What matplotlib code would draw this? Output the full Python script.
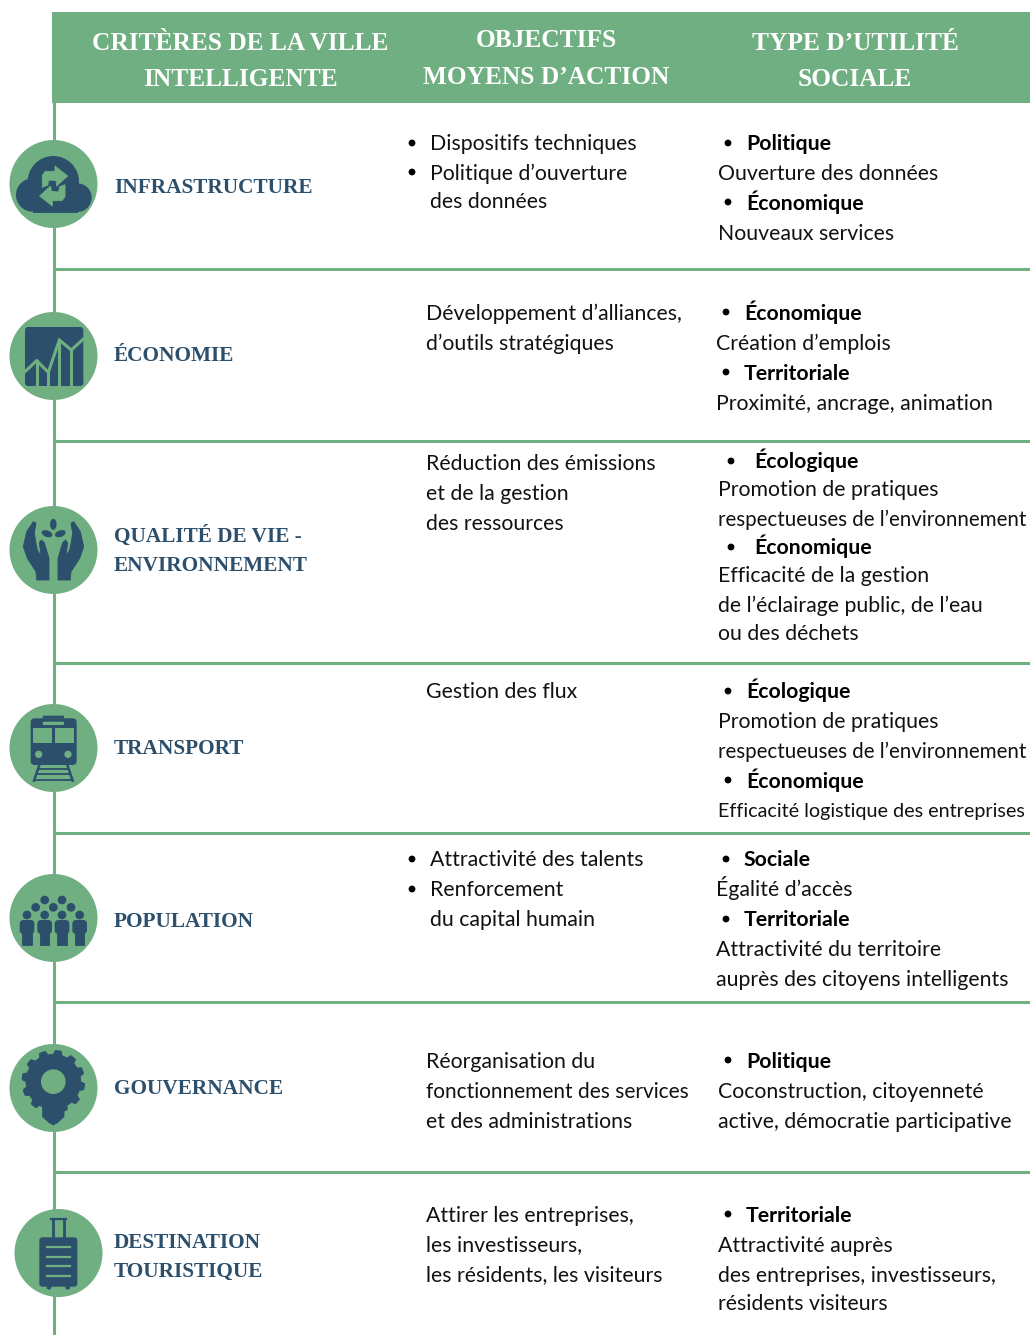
import numpy as np
import matplotlib
matplotlib.use('Agg')
import matplotlib.pyplot as plt
from matplotlib.patches import Circle, Rectangle, Polygon, FancyBboxPatch, Ellipse

GREEN = '#6FAF82'
NAVY = '#2C4F6B'
HEAD_FONT = 'Liberation Serif'
BODY_FONT = 'Lato'

# table content
headers = [['CRITÈRES DE LA VILLE', 'INTELLIGENTE'],
           ['OBJECTIFS', 'MOYENS D’ACTION'],
           ['TYPE D’UTILITÉ', 'SOCIALE']]
criteria = [['INFRASTRUCTURE'], ['ÉCONOMIE'], ['QUALITÉ DE VIE -', 'ENVIRONNEMENT'],
            ['TRANSPORT'], ['POPULATION'], ['GOUVERNANCE'], ['DESTINATION', 'TOURISTIQUE']]
objectives = [['Dispositifs techniques', 'Politique d’ouverture', 'des données'],
              ['Développement d’alliances,', 'd’outils stratégiques'],
              ['Réduction des émissions', 'et de la gestion', 'des ressources'],
              ['Gestion des flux'],
              ['Attractivité des talents', 'Renforcement', 'du capital humain'],
              ['Réorganisation du', 'fonctionnement des services', 'et des administrations'],
              ['Attirer les entreprises,', 'les investisseurs,', 'les résidents, les visiteurs']]
objective_bullets = [[0, 1], [], [], [], [0, 1], [], []]
utility = [['Politique', 'Ouverture des données', 'Économique', 'Nouveaux services'],
           ['Économique', 'Création d’emplois', 'Territoriale', 'Proximité, ancrage, animation'],
           ['Écologique', 'Promotion de pratiques', 'respectueuses de l’environnement', 'Économique',
            'Efficacité de la gestion', 'de l’éclairage public, de l’eau', 'ou des déchets'],
           ['Écologique', 'Promotion de pratiques', 'respectueuses de l’environnement', 'Économique',
            'Efficacité logistique des entreprises'],
           ['Sociale', 'Égalité d’accès', 'Territoriale', 'Attractivité du territoire',
            'auprès des citoyens intelligents'],
           ['Politique', 'Coconstruction, citoyenneté', 'active, démocratie participative'],
           ['Territoriale', 'Attractivité auprès', 'des entreprises, investisseurs,', 'résidents visiteurs']]
utility_types = {'Politique', 'Économique', 'Territoriale', 'Écologique', 'Sociale'}

# layout, in pixels of the 1030x1335 picture
sep_y = [269, 441, 663, 833, 1002, 1172]
circle_xy = [(53, 184), (53, 356), (53, 550), (53, 748), (53, 918), (53, 1088), (58, 1253)]
header_x = [240, 546, 855]
header_base = [[50, 86], [47, 84], [50, 86]]
criteria_base = [[193], [361], [542, 571], [754], [927], [1094], [1248, 1277]]
obj_y = [[143, 172, 201], [312, 342], [463, 492, 522], [691], [859, 889, 919],
         [1060, 1090, 1120], [1214, 1244, 1274]]
util_y = [[143, 172, 202, 232], [312, 342, 372, 402], [461, 489, 518, 547, 575, 604, 632],
          [691, 721, 751, 780, 810], [859, 889, 919, 949, 978], [1060, 1090, 1120],
          [1214, 1244, 1274, 1303]]
util_x = [(728, 746, 718), (726, 744, 716), (731, 754, 718), (728, 746, 718),
          (726, 744, 716), (728, 746, 718), (728, 746, 718)]
BASE_DROP = 7.5
BODY_SIZE = 15.3
# these lines run tighter in the original, Lato sets them too wide otherwise
fitted_size = {'respectueuses de l’environnement': 14.8,
               'Efficacité logistique des entreprises': 14.2,
               'fonctionnement des services': 15.0}

fig = plt.figure(figsize=(10.3, 13.35), dpi=100)
ax = fig.add_axes([0, 0, 1, 1])
ax.set_xlim(0, 1030)
ax.set_ylim(1335, 0)
ax.axis('off')


def add_poly(pts, ox, oy, color=NAVY, z=4):
    pts = [(ox + x / 3, oy + y / 3) for x, y in pts]
    ax.add_patch(Polygon(pts, closed=True, fc=color, ec=color, lw=0.6, joinstyle='round', zorder=z))


def add_round(x0, y0, x1, y1, ox, oy, r=2.0, color=NAVY, z=4):
    ax.add_patch(FancyBboxPatch((ox + x0 / 3 + r, oy + y0 / 3 + r), (x1 - x0) / 3 - 2 * r, (y1 - y0) / 3 - 2 * r,
                                boxstyle='round,pad=%g,rounding_size=%g' % (r, r), fc=color, ec='none', zorder=z))


def add_dot(x, y, r, ox, oy, color=NAVY, z=4):
    ax.add_patch(Circle((ox + x / 3, oy + y / 3), r / 3, fc=color, ec='none', zorder=z))


def cloud_icon():
    for x, y, r in [(160, 545, 77), (98, 585, 50), (232, 593, 43)]:
        add_dot(x, y, r, 0, 0)
    add_poly([(98, 570), (232, 570), (232, 635), (98, 635)], 0, 0)
    up = [(127, 562), (127, 526), (136, 514), (165, 514), (165, 498), (203, 528), (170, 558),
          (168, 542), (148, 540), (144, 548), (144, 555)]
    add_poly(up, 0, 0, GREEN, 5)
    add_poly([(322 - x, 1116 - y) for x, y in up], 0, 0, GREEN, 5)


def chart_icon():
    add_round(75, 981, 250, 1158, 0, 0, r=3)
    line_x = [75, 110, 145, 178, 214, 250]
    line_y = [1115, 1082, 1117, 1020, 1050, 1017]
    ax.plot([x / 3 for x in line_x], [y / 3 for y in line_y], color=GREEN, lw=2.2, zorder=5, solid_joinstyle='miter')
    for x, y in zip(line_x[1:5], line_y[1:5]):
        ax.plot([x / 3, x / 3], [y / 3, 1158 / 3], color=GREEN, lw=2.2, zorder=5)


def hands_icon():
    left = [(100, 95), (108, 100), (103, 130), (108, 160), (112, 180), (123, 198), (118, 158), (124, 150),
            (133, 158), (147, 205), (147, 270), (110, 270), (108, 245), (82, 205), (70, 170), (80, 125)]
    add_poly(left, 0, 490)
    add_poly([(321 - x, y) for x, y in left], 0, 490)
    ax.add_patch(Ellipse((160 / 3, 490 + 103 / 3), 6.5, 11, fc=NAVY, ec='none', zorder=4))
    ax.add_patch(Ellipse((141 / 3, 490 + 131 / 3), 11, 6.5, angle=20, fc=NAVY, ec='none', zorder=4))
    ax.add_patch(Ellipse((181 / 3, 490 + 131 / 3), 11, 6.5, angle=-20, fc=NAVY, ec='none', zorder=4))


def train_icon():
    add_round(92, 685, 230, 825, 0, 490, r=4)
    add_round(128, 677, 192, 686, 0, 490, r=1)
    add_round(128, 695, 192, 705, 0, 490, r=1.2, color=GREEN, z=5)
    ax.add_patch(Rectangle((100 / 3, 490 + 714 / 3), 55 / 3, 46 / 3, fc=GREEN, ec='none', zorder=5))
    ax.add_patch(Rectangle((165 / 3, 490 + 714 / 3), 57 / 3, 46 / 3, fc=GREEN, ec='none', zorder=5))
    add_dot(116, 793, 11, 0, 490, GREEN, 5)
    add_dot(204, 793, 11, 0, 490, GREEN, 5)
    for x0, x1 in [(118, 102), (202, 218)]:
        ax.plot([x0 / 3, x1 / 3], [490 + 825 / 3, 490 + 872 / 3], color=NAVY, lw=1.8, zorder=4)
    for y, half in [(836, 44), (851, 47), (869, 52)]:
        ax.plot([(160 - half) / 3, (160 + half) / 3], [490 + y / 3, 490 + y / 3], color=NAVY, lw=1.3, zorder=4)


def people_icon():
    for x, y in [(134, 120), (186, 120), (107, 142), (160, 142), (213, 142), (81, 165), (134, 165), (186, 165), (239, 165)]:
        add_dot(x, y, 13, 0, 860)
    for x in [81, 134, 186, 239]:
        add_round(x - 22, 180, x + 22, 222, 0, 860, r=4)
        add_poly([(x - 14, 205), (x + 14, 205), (x + 14, 254), (x - 14, 254)], 0, 860)


def gear_icon():
    cx, cy = 160, 665
    ang = np.linspace(0, 2 * np.pi, 12 * 8, endpoint=False) + 0.13
    rad = np.where(np.floor(ang / (2 * np.pi / 12) * 2) % 2 == 0, 94, 82)
    add_poly(list(zip(cx + rad * np.cos(ang), cy + rad * np.sin(ang))), 0, 860)
    add_dot(cx, cy, 37, 0, 860, GREEN, 5)
    add_poly([(128, 740), (192, 740), (192, 770), (172, 788), (160, 795), (148, 788), (128, 770)], 0, 860)


def case_icon():
    add_round(118, 1132, 232, 1280, 0, 860, r=3)
    add_dot(147, 1282, 7, 0, 860)
    add_dot(203, 1282, 7, 0, 860)
    for x in [159, 191]:
        ax.plot([x / 3, x / 3], [860 + 1076 / 3, 860 + 1132 / 3], color=NAVY, lw=2, zorder=4)
    ax.plot([153 / 3, 197 / 3], [860 + 1077 / 3, 860 + 1077 / 3], color=NAVY, lw=1.6, zorder=4)
    for y in [1162, 1190, 1219, 1247]:
        ax.plot([140 / 3, 210 / 3], [860 + y / 3, 860 + y / 3], color=GREEN, lw=1.6, zorder=5)


# frame: timeline, header band, row separators
ax.plot([53.5, 53.5], [12, 1335], color=GREEN, lw=2.2, solid_capstyle='butt', zorder=1)
ax.add_patch(Rectangle((52, 12), 978, 91, fc=GREEN, ec='none', zorder=2))
for y in sep_y:
    ax.plot([53, 1030], [y, y], color=GREEN, lw=2.2, solid_capstyle='butt', zorder=1)

for xc, ys, lines in zip(header_x, header_base, headers):
    for y, s in zip(ys, lines):
        ax.text(xc, y, s, color='white', family=HEAD_FONT, weight='bold', fontsize=18.3,
                ha='center', va='baseline', zorder=3)

for (x, y) in circle_xy:
    ax.add_patch(Circle((x + 0.5, y), 44, fc=GREEN, ec='none', zorder=3))
for draw in [cloud_icon, chart_icon, hands_icon, train_icon, people_icon, gear_icon, case_icon]:
    draw()

for ys, lines in zip(criteria_base, criteria):
    for y, s in zip(ys, lines):
        ax.text(114, y, s, color=NAVY, family=HEAD_FONT, weight='bold', fontsize=15.3, ha='left', va='baseline')

for ys, lines, bullets in zip(obj_y, objectives, objective_bullets):
    x = 430 if bullets else 426
    for i, (y, s) in enumerate(zip(ys, lines)):
        ax.text(x, y + BASE_DROP, s, color='#111111', family=BODY_FONT, fontsize=fitted_size.get(s, BODY_SIZE),
                ha='left', va='baseline')
        if i in bullets:
            ax.add_patch(Circle((412, y), 3.4, fc='black', ec='none'))

for ys, lines, (bx, bold_x, plain_x) in zip(util_y, utility, util_x):
    for y, s in zip(ys, lines):
        if s in utility_types:
            ax.add_patch(Circle((bx, y), 3.4, fc='black', ec='none'))
            ax.text(bold_x, y + BASE_DROP, s, color='black', family=BODY_FONT, weight='bold', fontsize=BODY_SIZE,
                    ha='left', va='baseline')
        else:
            ax.text(plain_x, y + BASE_DROP, s, color='#111111', family=BODY_FONT,
                    fontsize=fitted_size.get(s, BODY_SIZE), ha='left', va='baseline')

fig.savefig('out.png', dpi=100)
